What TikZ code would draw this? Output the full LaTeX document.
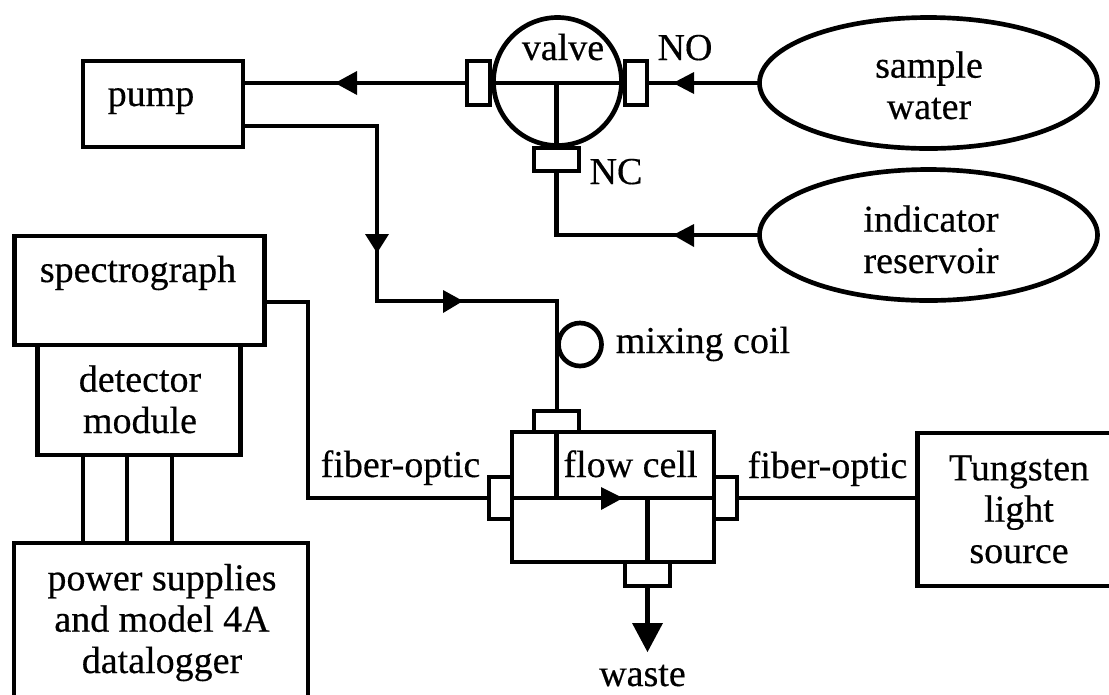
\documentclass[tikz,border=0pt]{standalone}
\usepackage{fontspec}
\usetikzlibrary{shapes.geometric}
\setmainfont[FakeBold=0.4]{Liberation Serif}
\newcommand{\boxat}[5]{\node[boxn,minimum width=(#4-#2)*0.75pt,minimum height=(#5-#3)*0.75pt,anchor=north west] (#1) at (#2,#3) {};}
\begin{document}
\begin{tikzpicture}[x=0.75pt,y=-0.75pt,
  pipe/.style={line width=3.5pt,line join=miter},
  boxn/.style={draw,line width=3.5pt,inner sep=0pt,outer sep=0pt,fill=white},
  oval/.style={draw,line width=3.5pt,ellipse,inner sep=0pt,outer sep=0pt,minimum width=338*0.75pt,minimum height=131*0.75pt},
  lbl/.style={font=\fontsize{28.5}{31}\selectfont,align=center,inner sep=0pt,anchor=base},
  tri/.style={fill=black,draw=none}]
\useasboundingbox (0,0) rectangle (1109,694);
% free ends and elbows of the piping
\coordinate (elbowA) at (377,126);
\coordinate (elbowB) at (377,301);
\coordinate (junc) at (557,301);
\coordinate (elbowC) at (557,235);
\coordinate (elbowD) at (308,302);
\coordinate (elbowE) at (308,498);
\coordinate (wasteEnd) at (647.5,630);
\coordinate (wa) at (83,500);
\coordinate (wb) at (127,500);
\coordinate (wc) at (172,500);
% boxes
\boxat{pump}{83}{61}{243}{147}
\boxat{det}{37.5}{345}{240.5}{455}
\boxat{spec}{14.5}{236}{264.5}{345}
\boxat{power}{14}{543}{308}{710}
\boxat{tung}{917.5}{433}{1130}{586}
\node[oval] (sample) at (928.5,83) {};
\node[oval] (indic) at (928.5,235) {};
% valve
\node[draw,line width=3.5pt,circle,inner sep=0pt,outer sep=0pt,minimum size=128*0.75pt] (valve) at (557.5,81.5) {};
\boxat{vl}{467}{61}{490}{105}
\boxat{vr}{625}{61}{647}{105}
\boxat{vb}{534}{148}{579}{171}
% mixing coil
\node[draw,line width=3.5pt,circle,inner sep=0pt,outer sep=0pt,minimum size=43*0.75pt] (coil) at (580,344.5) {};
% flow cell
\boxat{cell}{512}{432}{714}{562}
\boxat{ct}{534}{411}{579}{432}
\boxat{cl}{489}{477}{512}{519}
\boxat{cr}{714}{477}{737}{519}
\boxat{cb}{625}{562}{670}{586}
% pipes
\draw[pipe] (pump.east |- vl.west) -- (vl.west);
\draw[pipe] (pump.east |- elbowA) -- (elbowA) -- (elbowB) -- (junc) -- (ct.north -| junc);
\draw[pipe] (vr.east) -- (sample.west);
\draw[pipe] (vb.south) -- (vb.south |- elbowC) -- (indic.west);
\draw[pipe] (spec.east |- elbowD) -- (elbowD) -- (elbowE) -- (cl.west);
\draw[pipe] (cr.east) -- (tung.west |- cr.east);
\draw[pipe] (cb.south) -- (wasteEnd);
\draw[pipe] (wa |- det.south) -- (wa |- power.north);
\draw[pipe] (wb |- det.south) -- (wb |- power.north);
\draw[pipe] (wc |- det.south) -- (wc |- power.north);
\draw[pipe] (vl.east) -- (vr.west);
\draw[pipe] (vb.north |- vl.east) -- (vb.north);
\draw[pipe] (cl.east) -- (cr.west);
\draw[pipe] (ct.south) -- (ct.south |- cl.east);
\draw[pipe] (cb.north |- cr.west) -- (cb.north);
% arrowheads
\fill[tri] (335,83) -- (357,71) -- (357,95) -- cycle;
\fill[tri] (673,83) -- (694,72) -- (694,94) -- cycle;
\fill[tri] (673,235) -- (694,224) -- (694,247) -- cycle;
\fill[tri] (365,234) -- (389,234) -- (377,253) -- cycle;
\fill[tri] (443,290) -- (443,313) -- (463,301) -- cycle;
\fill[tri] (601,487) -- (601,510) -- (623,498) -- cycle;
\fill[tri] (632,623) -- (663,623) -- (647.5,652) -- cycle;
% labels
\node[lbl] (tpump) at (151,106) {pump};
\node[lbl] (tvalve) at (563,60) {valve};
\node[lbl] (tno) at (685,60) {NO};
\node[lbl] (tnc) at (616,184) {NC};
\node[lbl] (tsample) at (929,119) {sample\\water};
\node[lbl] (tindic) at (931,273) {indicator\\reservoir};
\node[lbl] (tspec) at (138,282) {spectrograph};
\node[lbl] (tdet) at (140,433) {detector\\module};
\node[lbl] (tpower) at (162,673) {power supplies\\and model 4A\\datalogger};
\node[lbl] (tmix) at (703,353) {mixing coil};
\node[lbl] (tf1) at (400.5,477) {fiber-optic};
\node[lbl] (tf2) at (827.5,478) {fiber-optic};
\node[lbl] (tcell) at (630.5,477) {flow cell};
\node[lbl] (ttung) at (1019,563) {Tungsten\\light\\source};
\node[lbl] (twaste) at (642.5,686) {waste};
\end{tikzpicture}
\end{document}
